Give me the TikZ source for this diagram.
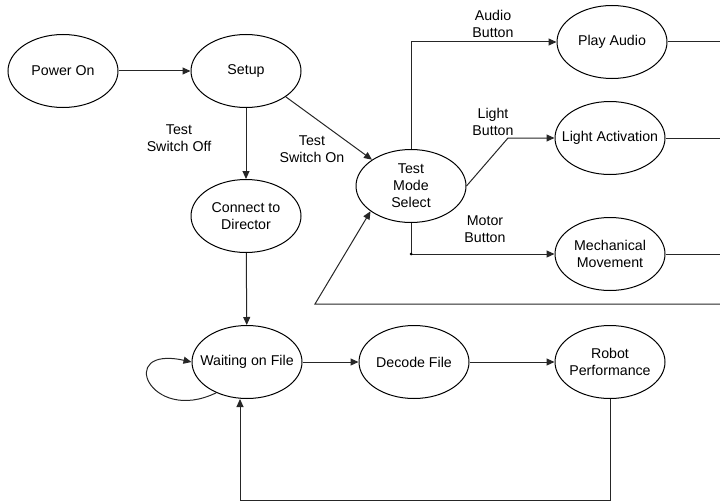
\documentclass[tikz,border=0pt]{standalone}
\usepackage{fontspec}
\setmainfont{Liberation Sans}
\usetikzlibrary{shapes.geometric,arrows.meta}
\begin{document}
\begin{tikzpicture}[x=1pt,y=-1pt,
  state/.style={ellipse,draw,line width=1pt,minimum width=110pt,minimum height=73pt,inner sep=-25pt,align=center,font=\fontsize{14.2}{17}\selectfont},
  lbl/.style={align=center,inner sep=0pt,font=\fontsize{14.2}{17}\selectfont},
  conn/.style={line width=1pt,draw=black!85},
  arr/.style={conn,-{Triangle[length=8pt,width=7pt]}}]
\useasboundingbox (0,0) rectangle (720,503);
\node[state] (po) at (63,71) {Power On};
\node[state] (s) at (246,71) {Setup};
\node[state] (cd) at (246,216) {Connect to\\Director};
\node[state] (tm) at (411,186) {Test\\Mode\\Select};
\node[state] (pa) at (612,42) {Play Audio};
\node[state] (la) at (610,138) {Light Activation};
\node[state] (mm) at (610,254) {Mechanical\\Movement};
\node[state] (w) at (247,362) {Waiting on File};
\node[state] (df) at (414,362) {Decode File};
\node[state] (rp) at (610,362) {Robot\\Performance};

\node[lbl] (l1) at (179,138) {Test\\Switch Off};
\node[lbl] (l2) at (312,149) {Test\\Switch On};
\node[lbl] (l3) at (493,24) {Audio\\Button};
\node[lbl] (l4) at (493,122) {Light\\Button};
\node[lbl] (l5) at (485,229) {Motor\\Button};

\coordinate (pae) at (720,42);
\coordinate (lae) at (720,138);
\coordinate (mme) at (720,254);
\coordinate (r1) at (720,304);
\coordinate (r2) at (315,304);
\coordinate (lk) at (508,138);
\coordinate (b1) at (610,500);
\coordinate (b2) at (240,500);
\coordinate (lp1) at (150,425);
\coordinate (lp2) at (115,345);

\draw[arr] (po) -- (s);
\draw[arr] (s) -- (cd);
\draw[arr] (s.-33) -- (tm.146);
\draw[arr] (cd) -- (w);
\draw[arr] (tm.north) |- (pa.west);
\draw[arr] (tm.east) -- (lk) -- (la.west);
\draw[arr] (tm.south) |- (mm.west);
\fill (tm.south |- mm.west) circle (1.5pt);
\draw[conn] (pa.east) -- (pae);
\draw[conn] (la.east) -- (lae);
\draw[conn] (mm.east) -- (mme);
\draw[arr] (r1) -- (r2) -- (tm.212);
\draw[arr] (w.225) .. controls (lp1) and (lp2) .. (w.west);
\draw[arr] (w) -- (df);
\draw[arr] (df) -- (rp);
\draw[arr] (rp.south) -- (b1) -- (b2) -- (b2 |- w.south);
\end{tikzpicture}
\end{document}
